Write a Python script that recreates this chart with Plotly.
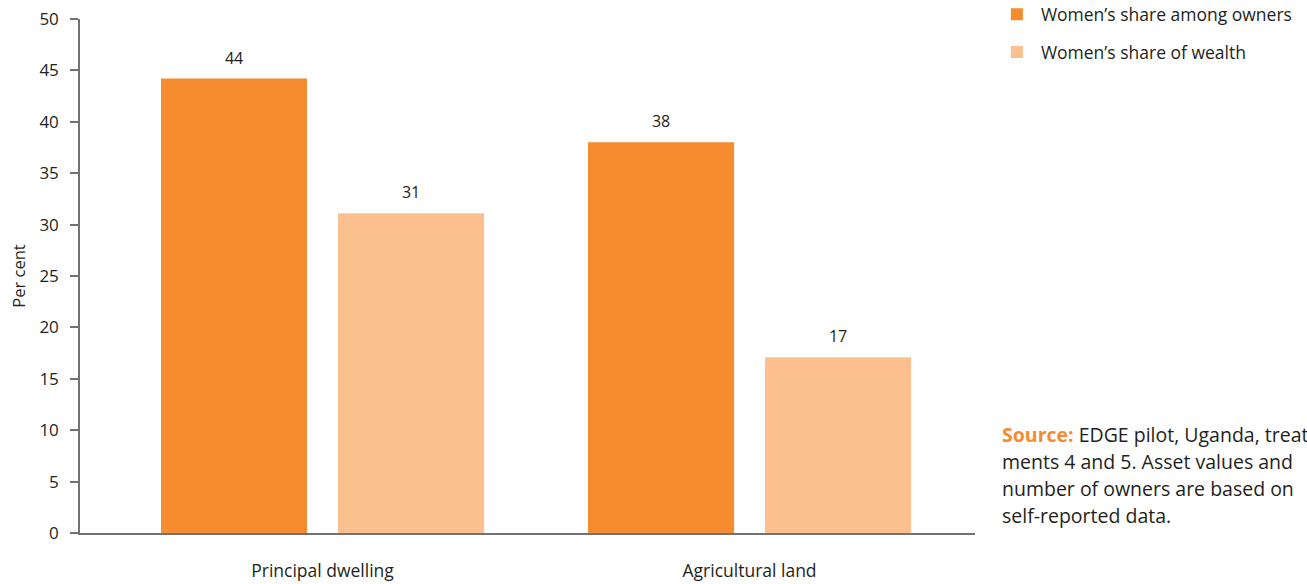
import plotly.graph_objects as go

categories = ["Principal dwelling", "Agricultural land"]
series_names = ["Women’s share among owners", "Women’s share of wealth"]
owners_share = [44.2, 38.0]
wealth_share = [31.1, 17.1]
y_ticks = [0, 5, 10, 15, 20, 25, 30, 35, 40, 45, 50]
source_lines = [
    "<b><span style='color:#F68B2F'>Source:</span></b> EDGE pilot, Uganda, treat-",
    "ments 4 and 5. Asset values and",
    "number of owners are based on",
    "self-reported data.",
]

colors = ["#F68B2F", "#FBC08D"]
FONT = "Open Sans"
TXT = "#231F20"

fig = go.Figure()
for name, vals, col in zip(series_names, [owners_share, wealth_share], colors):
    fig.add_trace(go.Bar(
        x=categories, y=vals, name=name, marker=dict(color=col, line=dict(width=0)),
        offsetgroup=name, legendgroup=name, hoverinfo="skip",
    ))
for name, vals in zip(series_names, [owners_share, wealth_share]):
    fig.add_trace(go.Scatter(
        x=categories, y=vals, mode="markers+text", offsetgroup=name,
        text=[f"{v:.0f}" for v in vals], textposition="top center",
        textfont=dict(family=FONT, size=16, color=TXT),
        marker=dict(size=16, opacity=0), showlegend=False, hoverinfo="skip",
    ))

fig.update_layout(
    width=1307, height=584,
    margin=dict(l=80, r=332, t=19, b=51, autoexpand=False),
    paper_bgcolor="white", plot_bgcolor="white",
    barmode="group", bargap=0.171, bargroupgap=0.175,
    scattermode="group", scattergap=0.171,
    font=dict(family=FONT, size=16, color=TXT),
    legend=dict(x=1.02, y=1.044, xanchor="left", yanchor="top",
                font=dict(family=FONT, size=17.5, color=TXT),
                itemwidth=38,
                tracegroupgap=12, traceorder="grouped", itemclick=False),
    showlegend=True,
)
fig.update_xaxes(
    type="category", range=[-0.568, 1.528], automargin=False,
    showline=True, linecolor="#727272", linewidth=1.5,
    ticks="", tickfont=dict(family=FONT, size=17.5, color=TXT),
    ticklabelstandoff=21, showgrid=False, zeroline=False,
)
fig.update_yaxes(
    range=[0, 50], tickvals=y_ticks, automargin=False,
    showline=True, linecolor="#727272", linewidth=1.5,
    ticks="outside", ticklen=8, tickcolor="#727272", tickwidth=1.5,
    tickfont=dict(family=FONT, size=17, color=TXT),
    ticklabelstandoff=8,
    showgrid=False, zeroline=False,
    title=dict(text="Per cent", font=dict(family=FONT, size=16.5, color=TXT), standoff=10),
)

line_y = [434, 461, 488, 515]
for txt, py in zip(source_lines, line_y):
    fig.add_annotation(
        text=txt, xref="paper", yref="paper",
        x=(1000 - 80) / 895, y=(533 - py) / 514,
        xanchor="left", yanchor="middle", showarrow=False, align="left",
        font=dict(family=FONT, size=19.5, color=TXT),
    )

fig.write_html("out.html")
